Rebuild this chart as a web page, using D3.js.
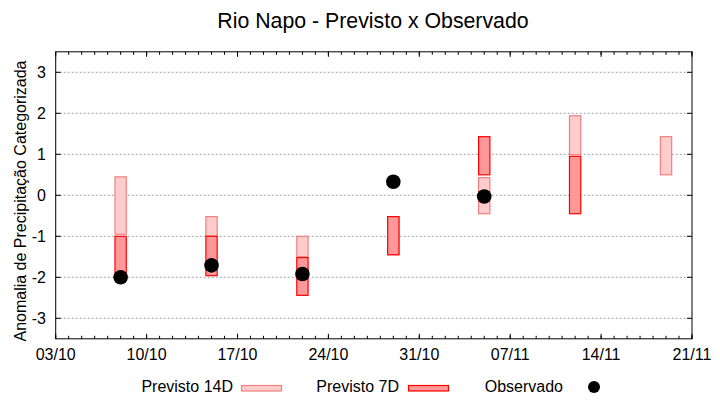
<!DOCTYPE html>
<html>
<head>
<meta charset="utf-8">
<script src="https://cdn.jsdelivr.net/npm/d3@7/dist/d3.min.js"></script>
<style>
  body { margin: 0; background: #fff; }
  svg { display: block; font-family: "Liberation Sans", Arial, sans-serif; }
</style>
</head>
<body>
<svg id="chart" width="720" height="400"></svg>
<script>
// ---- data ----
const dates   = ["2023-10-08","2023-10-15","2023-10-22","2023-10-29","2023-11-05","2023-11-12","2023-11-19"];
const p14Low  = [-0.95, -1.00, -1.50, -1.45, -0.45, 0.99, 0.50];
const p14High = [ 0.45, -0.52, -1.00, -0.52,  0.43, 1.94, 1.43];
const p7Low   = [-2.00, -1.96, -2.44, -1.45,  0.50, -0.45, null];
const p7High  = [-1.00, -1.00, -1.52, -0.52,  1.43,  0.95, null];
const observed = [-2.00, -1.71, -1.92, 0.33, -0.03, null, null];
const xTickLabels = ["03/10","10/10","17/10","24/10","31/10","07/11","14/11","21/11"];
const yTicks = [-3, -2, -1, 0, 1, 2, 3];
const title = "Rio Napo - Previsto x Observado";
const yTitle = "Anomalia de Precipitação Categorizada";
const legendLabels = ["Previsto 14D", "Previsto 7D", "Observado"];

// ---- layout ----
const svg = d3.select("#chart");
const L = 55.7, R = 692, T = 51.8, B = 338.8;
const parse = d3.utcParse("%Y-%m-%d");
const x0 = parse("2023-10-03"), x1 = parse("2023-11-21");
const x = d3.scaleUtc().domain([x0, x1]).range([L, R]);
const y = d3.scaleLinear().domain([-3.5, 3.5]).range([B, T]);
const dayPx = x(d3.utcDay.offset(x0, 1)) - x(x0);
const barW = dayPx * 0.87;

const c14 = { fill: "#ffcccc", stroke: "#f08080" };
const c7  = { fill: "#ff9999", stroke: "#ff0000" };

// grid
svg.append("g").selectAll("line").data(yTicks).join("line")
  .attr("x1", L).attr("x2", R)
  .attr("y1", d => y(d)).attr("y2", d => y(d))
  .attr("stroke", "#a0a0a0").attr("stroke-width", 1)
  .attr("stroke-dasharray", "2,2");

// axes ticks (inward, mirrored)
const majorDates = xTickLabels.map((_, i) => d3.utcDay.offset(x0, i * 7));
const minorDates = d3.utcDay.range(x0, d3.utcDay.offset(x1, 1));
const tg = svg.append("g").attr("stroke", "#000").attr("stroke-width", 1);
minorDates.forEach(d => {
  const xx = x(d);
  tg.append("line").attr("x1", xx).attr("x2", xx).attr("y1", B).attr("y2", B - 3);
  tg.append("line").attr("x1", xx).attr("x2", xx).attr("y1", T).attr("y2", T + 3);
});
majorDates.forEach(d => {
  const xx = x(d);
  tg.append("line").attr("x1", xx).attr("x2", xx).attr("y1", B).attr("y2", B - 5);
  tg.append("line").attr("x1", xx).attr("x2", xx).attr("y1", T).attr("y2", T + 5);
});
yTicks.forEach(v => {
  tg.append("line").attr("x1", L).attr("x2", L + 5).attr("y1", y(v)).attr("y2", y(v));
  tg.append("line").attr("x1", R).attr("x2", R - 5).attr("y1", y(v)).attr("y2", y(v));
});

// tick labels
svg.append("g").selectAll("text").data(majorDates).join("text")
  .attr("x", d => x(d)).attr("y", 359.5)
  .attr("text-anchor", "middle").attr("font-size", 16).attr("fill", "#000")
  .text((d, i) => xTickLabels[i]);
svg.append("g").selectAll("text").data(yTicks).join("text")
  .attr("x", 46).attr("y", d => y(d) + 5.8)
  .attr("text-anchor", "end").attr("font-size", 16).attr("fill", "#000")
  .text(d => d);

// bars
const rows = dates.map((d, i) => ({
  date: parse(d), lo14: p14Low[i], hi14: p14High[i],
  lo7: p7Low[i], hi7: p7High[i], obs: observed[i]
}));
svg.append("g").selectAll("rect").data(rows.filter(r => r.lo14 != null)).join("rect")
  .attr("x", r => x(r.date) - barW / 2).attr("width", barW)
  .attr("y", r => y(r.hi14)).attr("height", r => y(r.lo14) - y(r.hi14))
  .attr("fill", c14.fill).attr("stroke", c14.stroke).attr("stroke-width", 1.2);
svg.append("g").selectAll("rect").data(rows.filter(r => r.lo7 != null)).join("rect")
  .attr("x", r => x(r.date) - barW / 2).attr("width", barW)
  .attr("y", r => y(r.hi7)).attr("height", r => y(r.lo7) - y(r.hi7))
  .attr("fill", c7.fill).attr("stroke", c7.stroke).attr("stroke-width", 1.2);

// observed dots
svg.append("g").selectAll("circle").data(rows.filter(r => r.obs != null)).join("circle")
  .attr("cx", r => x(r.date)).attr("cy", r => y(r.obs)).attr("r", 7.3)
  .attr("fill", "#000");

// frame
svg.append("rect").attr("x", L).attr("y", T).attr("width", R - L).attr("height", B - T)
  .attr("fill", "none").attr("stroke", "#000").attr("stroke-width", 1);

// titles
svg.append("text").attr("x", 373).attr("y", 28).attr("text-anchor", "middle")
  .attr("font-size", 21.3).attr("fill", "#000").text(title);
svg.append("text").attr("transform", "translate(26,201) rotate(-90)")
  .attr("text-anchor", "middle").attr("font-size", 16).attr("fill", "#000").text(yTitle);

// legend
const lg = svg.append("g");
const legendItems = [
  { label: legendLabels[0], tx: 233, kind: "box", col: c14, sx: 241.5 },
  { label: legendLabels[1], tx: 399, kind: "box", col: c7, sx: 408.5 },
  { label: legendLabels[2], tx: 563, kind: "dot", sx: 594 }
];
legendItems.forEach(it => {
  lg.append("text").attr("x", it.tx).attr("y", 392).attr("text-anchor", "end")
    .attr("font-size", 16).attr("fill", "#000").text(it.label);
  if (it.kind === "box") {
    lg.append("rect").attr("x", it.sx).attr("y", 385.5).attr("width", 40).attr("height", 5.5)
      .attr("fill", it.col.fill).attr("stroke", it.col.stroke).attr("stroke-width", 1.2);
  } else {
    lg.append("circle").attr("cx", it.sx).attr("cy", 387).attr("r", 6).attr("fill", "#000");
  }
});
</script>
</body>
</html>
